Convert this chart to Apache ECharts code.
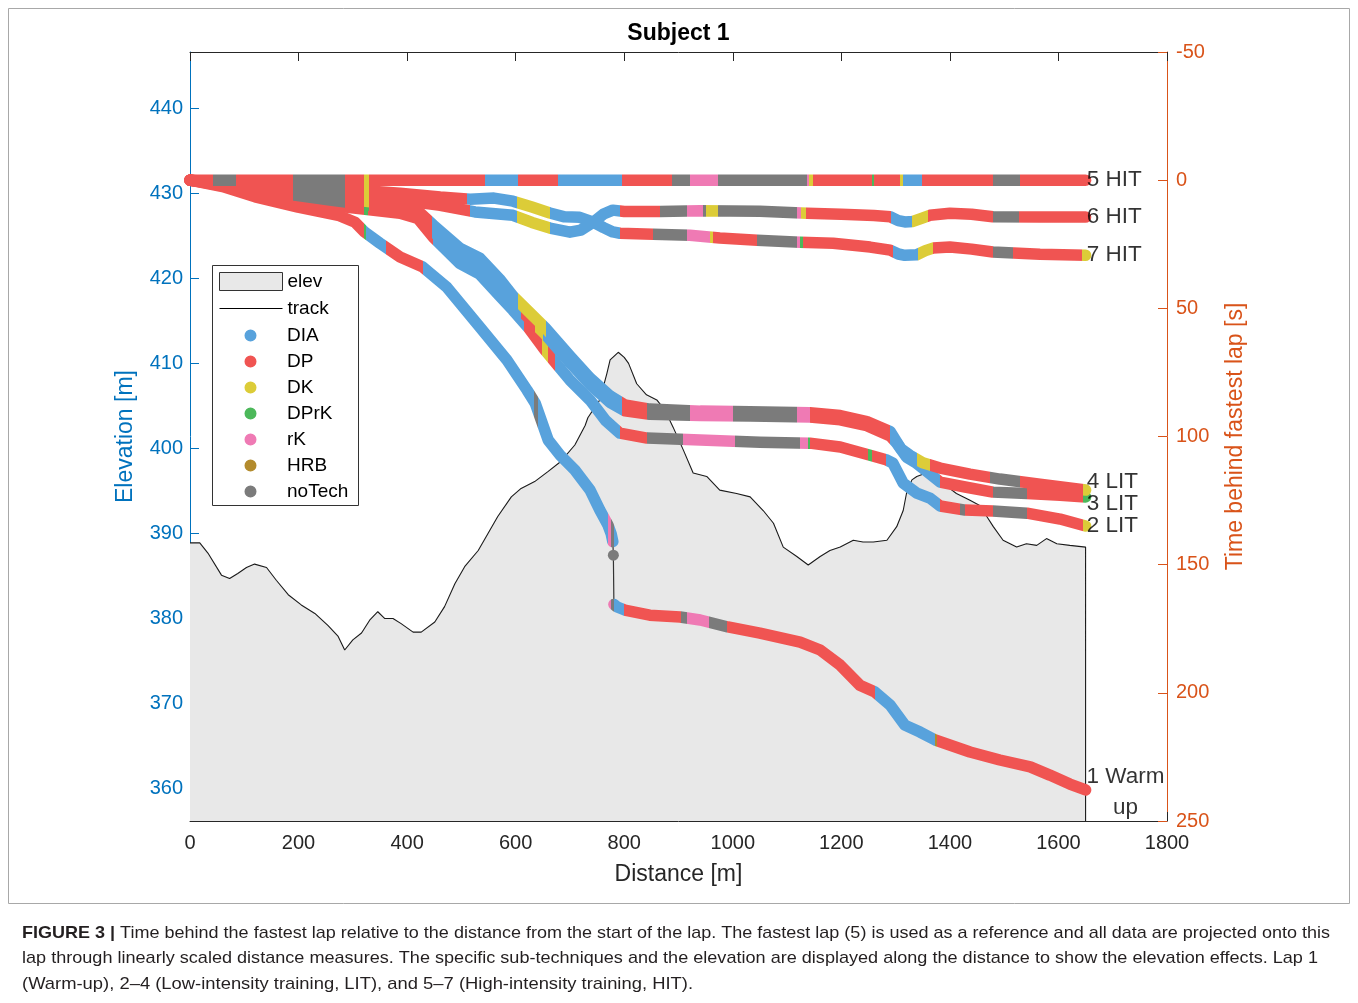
<!DOCTYPE html>
<html><head><meta charset="utf-8">
<script src="https://cdn.jsdelivr.net/npm/echarts@6/dist/echarts.min.js"></script>
<style>html,body{margin:0;padding:0;background:#fff;}#c{width:1358px;height:1003px;}</style>
</head><body><div id="c"></div>
<script>
// ---------- tick labels ----------
const distTicks = [0,200,400,600,800,1000,1200,1400,1600,1800];
const elevTicks = [360,370,380,390,400,410,420,430,440];
const timeTicks = [-50,0,50,100,150,200,250];

// ---------- elevation profile [distance m, elevation m] ----------
const elevation = [[0,388.9],[18,388.9],[33,387.7],[58,385.1],[73,384.7],[88,385.3],[104,386.0],[119,386.4],[141,386.0],[159,384.5],[181,382.8],[205,381.6],[230,380.6],[254,379.2],[273,377.9],[285,376.3],[300,377.5],[316,378.3],[331,379.8],[346,380.8],[359,380.0],[374,380.0],[389,379.4],[411,378.4],[426,378.4],[451,379.6],[469,381.4],[488,384.1],[506,386.1],[531,388.0],[549,390.0],[567,392.0],[592,394.3],[610,395.3],[635,396.1],[660,397.3],[682,398.4],[709,400.4],[728,402.7],[733,403.6],[755,405.7],[768,408.8],[774,410.4],[789,411.3],[800,410.7],[808,410.0],[823,407.6],[841,406.3],[860,405.7],[875,404.5],[890,402.5],[909,399.8],[927,397.1],[952,396.7],[976,395.1],[1007,394.7],[1032,394.3],[1056,392.7],[1075,391.2],[1093,388.4],[1118,387.3],[1139,386.3],[1161,387.3],[1179,388.0],[1198,388.4],[1222,389.2],[1240,389.0],[1259,389.0],[1284,389.2],[1302,390.8],[1314,392.7],[1320,394.7],[1330,396.3],[1339,396.7],[1360,397.2],[1385,396.0],[1412,394.7],[1437,393.9],[1455,393.3],[1468,392.0],[1480,390.8],[1498,389.2],[1523,388.4],[1541,388.8],[1560,388.6],[1578,389.4],[1597,388.8],[1621,388.6],[1650,388.4]];

// ---------- laps: [distance m, time behind fastest lap s] ----------
const lap1 = [[0,0],[60,2.5],[120,6.5],[199,10.5],[273,13.7],[304,16.4],[322,20.3],[350,24.6],[387,30],[429,33.9],[473,41.7],[534,57.3],[584,70.2],[621,81.9],[636,87],[660,101.4],[682,107.3],[709,113.1],[737,120.9],[755,128.7],[770,134.5],[776,138],[779,141],null,[780,146.3],null,[781,165.5],[786,166.4],[801,167.7],[847,169.7],[903,170.4],[940,171.6],[991,174.3],[1050,176.7],[1124,180.2],[1161,183.3],[1198,189.2],[1234,197],[1262,199.7],[1290,204.8],[1317,212.6],[1345,215.3],[1373,218.4],[1437,223.1],[1492,226.2],[1548,228.9],[1584,232.1],[1621,235.6],[1650,237.9]];
const lap2 = [[0,0],[110,4],[258,9.8],[387,12.9],[420,15],[448,22.2],[497,32.5],[534,36.7],[570,45],[595,50.7],[625,58],[654,66.3],[700,78],[737,85.8],[765,93.6],[792,98.7],[842,100.6],[940,101.4],[1050,102.2],[1142,102.6],[1198,104.1],[1253,107.3],[1284,109.2],[1295,110.4],[1305,114.5],[1314,118.2],[1339,122.1],[1363,124],[1382,127.1],[1428,128.7],[1479,129.1],[1542,129.9],[1603,132.2],[1650,134.9]];
const lap3 = [[0,0],[110,3.4],[258,7.8],[387,11.3],[420,13.5],[448,20],[497,29.5],[534,33.5],[570,41.5],[595,48],[625,54],[654,60],[700,71.2],[737,79.7],[774,86.7],[801,90],[847,91.3],[940,91.8],[1032,92],[1142,92.4],[1198,93.5],[1247,95.8],[1290,99.8],[1302,102.6],[1320,108],[1339,110.5],[1360,114],[1382,117.8],[1428,119.7],[1479,121.7],[1542,122.2],[1603,122.9],[1650,123.6]];
const lap4 = [[0,0],[110,2.8],[258,6.6],[387,9.8],[420,12],[448,17.5],[497,26.5],[534,30.4],[570,38.5],[595,45.2],[625,51.5],[654,57.5],[700,68.6],[737,77.2],[774,84.2],[801,87.7],[847,89.3],[940,90.1],[1032,90.3],[1142,90.7],[1198,91.8],[1247,94.2],[1290,98.1],[1300,101.5],[1310,104.8],[1326,107.3],[1350,110.2],[1382,112.3],[1437,114.7],[1492,116.6],[1566,118.6],[1650,120.9]];
const lap5 = [[0,0],[1650,0]];
const lap6 = [[0,0],[110,2.2],[258,4.7],[387,7.8],[461,9.8],[525,12.4],[595,13.7],[630,16.5],[663,18.7],[700,20.3],[720,19.5],[743,16.4],[762,13.2],[779,11.7],[800,12.2],[866,12.2],[940,11.9],[1050,12.1],[1137,12.9],[1200,13.3],[1260,13.8],[1290,14.3],[1305,15.8],[1317,16.3],[1332,16.1],[1349,14.8],[1363,13.7],[1400,12.9],[1440,13.3],[1479,14.3],[1566,14.4],[1650,14.4]];
const lap7 = [[0,0],[110,1.8],[258,3.1],[387,5.1],[461,6.6],[516,7.4],[560,7.0],[595,8.2],[630,10.5],[663,12.8],[690,14.3],[718,14.5],[743,16.4],[762,18.5],[779,20.2],[792,20.7],[853,21.1],[921,21.5],[976,22.6],[1045,23.4],[1124,24.2],[1185,24.6],[1253,26.1],[1290,27.3],[1305,28.8],[1317,29.3],[1339,29.1],[1355,27.5],[1369,26.5],[1400,26.1],[1440,26.9],[1479,28],[1566,28.9],[1650,29.3]];

// ---------- sub-technique segments per lap: [from m, to m, technique] ----------
const lap1Tech = [[0,320,'DP'],[320,325,'DPrK'],[325,362,'DIA'],[362,430,'DP'],[430,633,'DIA'],[633,641,'noTech'],[641,771,'DIA'],[771,776,'rK'],[776,780.6,'noTech'],[780.6,800,'DIA'],[800,905,'DP'],[905,915,'noTech'],[915,957,'rK'],[957,990,'noTech'],[990,1262,'DP'],[1262,1372,'DIA'],[1372,1376,'HRB'],[1376,1651,'DP']];
const lap2Tech = [[0,320,'DP'],[320,328,'DPrK'],[328,448,'DP'],[448,615,'DIA'],[615,648,'DP'],[648,660,'DK'],[660,672,'DP'],[672,792,'DIA'],[792,842,'DP'],[842,908,'noTech'],[908,1004,'rK'],[1004,1124,'noTech'],[1124,1139,'rK'],[1139,1143,'DPrK'],[1143,1250,'DP'],[1250,1256,'DPrK'],[1256,1282,'DP'],[1282,1382,'DIA'],[1382,1419,'DP'],[1419,1428,'noTech'],[1428,1479,'DP'],[1479,1542,'noTech'],[1542,1645,'DP'],[1645,1651,'DK']];
const lap3Tech = [[0,190,'DP'],[190,285,'noTech'],[285,320,'DP'],[320,330,'DPrK'],[330,445,'DP'],[445,610,'DIA'],[610,635,'DP'],[635,650,'DK'],[650,795,'DIA'],[795,842,'DP'],[842,921,'noTech'],[921,1000,'rK'],[1000,1118,'noTech'],[1118,1142,'rK'],[1142,1290,'DP'],[1290,1382,'DIA'],[1382,1479,'DP'],[1479,1542,'noTech'],[1542,1645,'DP'],[1645,1651,'DPrK']];
const lap4Tech = [[0,190,'DP'],[190,285,'noTech'],[285,320,'DP'],[320,330,'DK'],[330,445,'DP'],[445,605,'DIA'],[605,655,'DK'],[655,795,'DIA'],[795,842,'DP'],[842,921,'noTech'],[921,1000,'rK'],[1000,1118,'noTech'],[1118,1142,'rK'],[1142,1290,'DP'],[1290,1339,'DIA'],[1339,1363,'DK'],[1363,1474,'DP'],[1474,1529,'noTech'],[1529,1645,'DP'],[1645,1651,'DK']];
const lap5Tech = [[0,43,'DP'],[43,84,'noTech'],[84,190,'DP'],[190,285,'noTech'],[285,320,'DP'],[320,330,'DK'],[330,543,'DP'],[543,604,'DIA'],[604,678,'DP'],[678,796,'DIA'],[796,888,'DP'],[888,921,'noTech'],[921,973,'rK'],[973,1137,'noTech'],[1137,1141,'rK'],[1141,1148,'DK'],[1148,1256,'DP'],[1256,1260,'DPrK'],[1260,1308,'DP'],[1308,1314,'DK'],[1314,1349,'DIA'],[1349,1480,'DP'],[1480,1529,'noTech'],[1529,1651,'DP']];
const lap6Tech = [[0,190,'DP'],[190,285,'noTech'],[285,320,'DP'],[320,330,'DK'],[330,516,'DP'],[516,602,'DIA'],[602,663,'DK'],[663,792,'DIA'],[792,866,'DP'],[866,916,'noTech'],[916,945,'rK'],[945,950,'noTech'],[950,972,'DK'],[972,1118,'noTech'],[1118,1126,'rK'],[1126,1135,'DK'],[1135,1292,'DP'],[1292,1330,'DIA'],[1330,1360,'DK'],[1360,1479,'DP'],[1479,1527,'noTech'],[1527,1651,'DP']];
const lap7Tech = [[0,190,'DP'],[190,285,'noTech'],[285,320,'DP'],[320,330,'DK'],[330,510,'DP'],[510,602,'DIA'],[602,663,'DK'],[663,792,'DIA'],[792,853,'DP'],[853,916,'noTech'],[916,958,'rK'],[958,964,'DK'],[964,1045,'DP'],[1045,1118,'noTech'],[1118,1124,'rK'],[1124,1129,'DPrK'],[1129,1296,'DP'],[1296,1341,'DIA'],[1341,1369,'DK'],[1369,1479,'DP'],[1479,1516,'noTech'],[1516,1644,'DP'],[1644,1651,'DK']];

// ---------- lap labels ----------
const lapLabelText = ['5 HIT','6 HIT','7 HIT','4 LIT','3 LIT','2 LIT','1 Warm\nup'];
const lapLabelTime = [0,14.4,29.3,117.8,126.4,135,238.9];

const techNames = ['DIA','DP','DK','DPrK','rK','HRB','noTech'];
const captionLines = [
  ['FIGURE 3 |',' Time behind the fastest lap relative to the distance from the start of the lap. The fastest lap (5) is used as a reference and all data are projected onto this'],
  ['','lap through linearly scaled distance measures. The specific sub-techniques and the elevation are displayed along the distance to show the elevation effects. Lap 1'],
  ['','(Warm-up), 2\u20134 (Low-intensity training, LIT), and 5\u20137 (High-intensity training, HIT).']
];

// ---------- styling ----------
const FONT = 'Liberation Sans, Arial, Helvetica, sans-serif';
const techColors = {DIA:'#58a2dc', DP:'#f05452', DK:'#dccc38', DPrK:'#4cb85a', rK:'#ef7ab4', HRB:'#b38b2d', noTech:'#7b7b7b'};
const BLUE = '#0072BD', ORANGE = '#D95319', AX = '#262626';
const ELEV_MIN = 356.2, ELEV_MAX = 446.6;
// legend marker: a 12px dot centred in a 63x12 icon box
const DOT_ICON = 'path://M0,0L0.01,0L0.01,0.01Z M63,12L62.99,12L62.99,11.99Z M25.5,6A6,6 0 1,0 37.5,6A6,6 0 1,0 25.5,6Z';

const laps = {1:lap1,2:lap2,3:lap3,4:lap4,5:lap5,6:lap6,7:lap7};
const lapTech = {1:lap1Tech,2:lap2Tech,3:lap3Tech,4:lap4Tech,5:lap5Tech,6:lap6Tech,7:lap7Tech};
const drawOrder = [1,2,3,4,7,6,5];

function techAt(lapId, d){
  const segs = lapTech[lapId];
  for (const s of segs) if (d >= s[0] && d < s[1]) return s[2];
  return segs[segs.length-1][2];
}

const series = [];
series.push({
  name:'elev', type:'line', yAxisIndex:0, xAxisIndex:0, symbol:'none', silent:true,
  data: elevation.concat([[elevation[elevation.length-1][0], ELEV_MIN]]),
  lineStyle:{color:'#1a1a1a', width:1.1},
  areaStyle:{color:'#e8e8e8', opacity:1, origin:'start'},
  z:1
});
drawOrder.forEach(id => {
  series.push({
    name:'track', type:'line', yAxisIndex:1, symbol:'none', silent:true,
    data: laps[id].filter(p => p !== null),
    itemStyle:{color:'#333'},
    lineStyle:{color:'#333', width:1.2}, z:2
  });
});
const visualMaps = [];
const isolated = {}; techNames.forEach(t => isolated[t] = []);
drawOrder.forEach(id => {
  const arr = laps[id];
  arr.forEach((p,i) => {
    if (p === null) return;
    const prevNull = i === 0 || arr[i-1] === null;
    const nextNull = i === arr.length-1 || arr[i+1] === null;
    if (prevNull && nextNull) isolated[techAt(id,p[0])].push(p);
  });
  const idx = series.length;
  series.push({
    name:'lap'+id, type:'line', yAxisIndex:1, symbol:'none', silent:true,
    data: arr.map(p => p === null ? '-' : p),
    connectNulls:false,
    lineStyle:{width:11.5, cap:'round', join:'round'}, z:3
  });
  const segs = lapTech[id];
  visualMaps.push({
    type:'piecewise', show:false, dimension:0, seriesIndex: idx,
    pieces: segs.map((s,i) => {
      if (i === 0) return {gte:-1000, lt:s[1], color:techColors[s[2]]};
      if (i === segs.length-1) return {gte:s[0], lte:5000, color:techColors[s[2]]};
      return {gte:s[0], lt:s[1], color:techColors[s[2]]};
    }),
    outOfRange:{color:techColors[segs[segs.length-1][2]]}
  });
});
techNames.forEach(t => {
  series.push({
    name:t, type:'scatter', yAxisIndex:1, symbol:'circle', symbolSize:11, silent:true,
    data: isolated[t], itemStyle:{color:techColors[t], opacity:1}, z:4
  });
});
series.push({
  name:'labels', type:'scatter', yAxisIndex:1, symbolSize:0.1, silent:true,
  itemStyle:{color:'rgba(0,0,0,0)'},
  data: lapLabelText.map((txt,i) => {
    const multi = txt.indexOf('\n') >= 0;
    return {
      value:[1650, lapLabelTime[i]], name:txt,
      label: multi ? {show:true, position:[40,0], align:'center', verticalAlign:'middle', lineHeight:31} : {show:true, position:'right', distance:1, verticalAlign:'middle'}
    };
  }),
  label:{show:true, formatter: p => p.name, color:'#000', fontSize:22.5, fontFamily:FONT},
  z:6
});

const captionTargets = [1308, 1296, 671];
const mctx = document.createElement('canvas').getContext('2d');
function tw(str, weight, size){ mctx.font = weight + ' ' + size + 'px ' + FONT; return mctx.measureText(str).width; }
const CAP_SIZE = 17;
const graphics = [
  {type:'rect', shape:{x:8.5, y:8.5, width:1341, height:895}, style:{fill:'none', stroke:'#a8a8a8', lineWidth:1}, z:0, silent:true},
  {type:'rect', shape:{x:212.5, y:265.5, width:146, height:240}, style:{fill:'#fff', stroke:'#333', lineWidth:1}, z:20, silent:true},
  {type:'text', x:678.5, y:34, style:{text:'Subject 1', fontSize:23, fontWeight:'bold', fontFamily:FONT, fill:'#000', align:'center', verticalAlign:'middle'}, z:30, silent:true}
];
const capY = [933, 958, 984];
captionLines.forEach((ln,i) => {
  const w = tw(ln[0],'bold',CAP_SIZE) + tw(ln[1],'normal',CAP_SIZE);
  const sx = captionTargets[i] / w;
  const text = (ln[0] ? '{b|' + ln[0] + '}' : '') + '{n|' + ln[1] + '}';
  graphics.push({type:'text', x:22, y:capY[i], scaleX:sx, silent:true, z:30,
    style:{text:text, fontSize:CAP_SIZE, fontFamily:FONT, fill:'#231f20', verticalAlign:'middle', align:'left',
      rich:{b:{fontWeight:'bold', fontSize:CAP_SIZE, fontFamily:FONT, fill:'#231f20'}, n:{fontWeight:'normal', fontSize:CAP_SIZE, fontFamily:FONT, fill:'#231f20'}}}});
});

const option = {
  animation:false,
  backgroundColor:'#fff',
  grid:{left:190, top:52, width:977, height:769, containLabel:false},
  xAxis:[
    {type:'value', position:'bottom', min:distTicks[0], max:distTicks[distTicks.length-1], interval:200,
     axisLine:{onZero:false, lineStyle:{color:AX, width:1}},
     axisTick:{inside:true, length:9, lineStyle:{color:AX}},
     axisLabel:{color:AX, fontSize:20, fontFamily:FONT, margin:12, formatter: v => String(v)},
     splitLine:{show:false},
     name:'Distance [m]', nameLocation:'middle', nameGap:42, nameTextStyle:{color:AX, fontSize:23, fontFamily:FONT}},
    {type:'value', position:'top', min:distTicks[0], max:distTicks[distTicks.length-1], interval:200,
     axisLine:{onZero:false, lineStyle:{color:AX, width:1}},
     axisTick:{inside:true, length:9, lineStyle:{color:AX}},
     axisLabel:{show:false}, splitLine:{show:false}}
  ],
  yAxis:[
    {type:'value', position:'left', min:ELEV_MIN, max:ELEV_MAX,
     axisLine:{show:true, onZero:false, lineStyle:{color:BLUE, width:1}},
     axisTick:{show:true, inside:true, length:9, customValues:elevTicks, lineStyle:{color:BLUE}},
     axisLabel:{color:BLUE, fontSize:20, fontFamily:FONT, margin:7, customValues:elevTicks},
     splitLine:{show:false},
     name:'Elevation [m]', nameLocation:'middle', nameGap:53, nameTextStyle:{color:BLUE, fontSize:23, fontFamily:FONT}},
    {type:'value', position:'right', min:timeTicks[0], max:timeTicks[timeTicks.length-1], interval:50, inverse:true,
     axisLine:{show:true, onZero:false, lineStyle:{color:ORANGE, width:1}},
     axisTick:{show:true, inside:true, length:9, lineStyle:{color:ORANGE}},
     axisLabel:{color:ORANGE, fontSize:20, fontFamily:FONT, margin:9},
     splitLine:{show:false},
     name:'Time behind fastest lap [s]', nameLocation:'middle', nameGap:57, nameTextStyle:{color:ORANGE, fontSize:23, fontFamily:FONT}}
  ],
  visualMap: visualMaps,
  legend:[
    {orient:'vertical', left:219, top:272, itemWidth:63, itemHeight:18, itemGap:8, padding:0, selectedMode:false, z:25,
     textStyle:{color:'#000', fontSize:19, fontFamily:FONT},
     data:[{name:'elev', icon:'rect', itemStyle:{color:'#e8e8e8', borderColor:'#333', borderWidth:1}},
           {name:'track', itemStyle:{opacity:0, color:'rgba(0,0,0,0)', borderWidth:0}, lineStyle:{color:'#000', width:1}}]},
    {orient:'vertical', left:219, top:326, itemWidth:63, itemHeight:12, itemGap:7, padding:0, selectedMode:false, z:25,
     textStyle:{color:'#000', fontSize:19, fontFamily:FONT},
     data: techNames.map(t => ({name:t, icon:DOT_ICON}))}
  ],
  graphic: graphics,
  series: series
};

const chart = echarts.init(document.getElementById('c'), null, {renderer:'canvas'});
chart.setOption(option);
</script>
</body></html>
